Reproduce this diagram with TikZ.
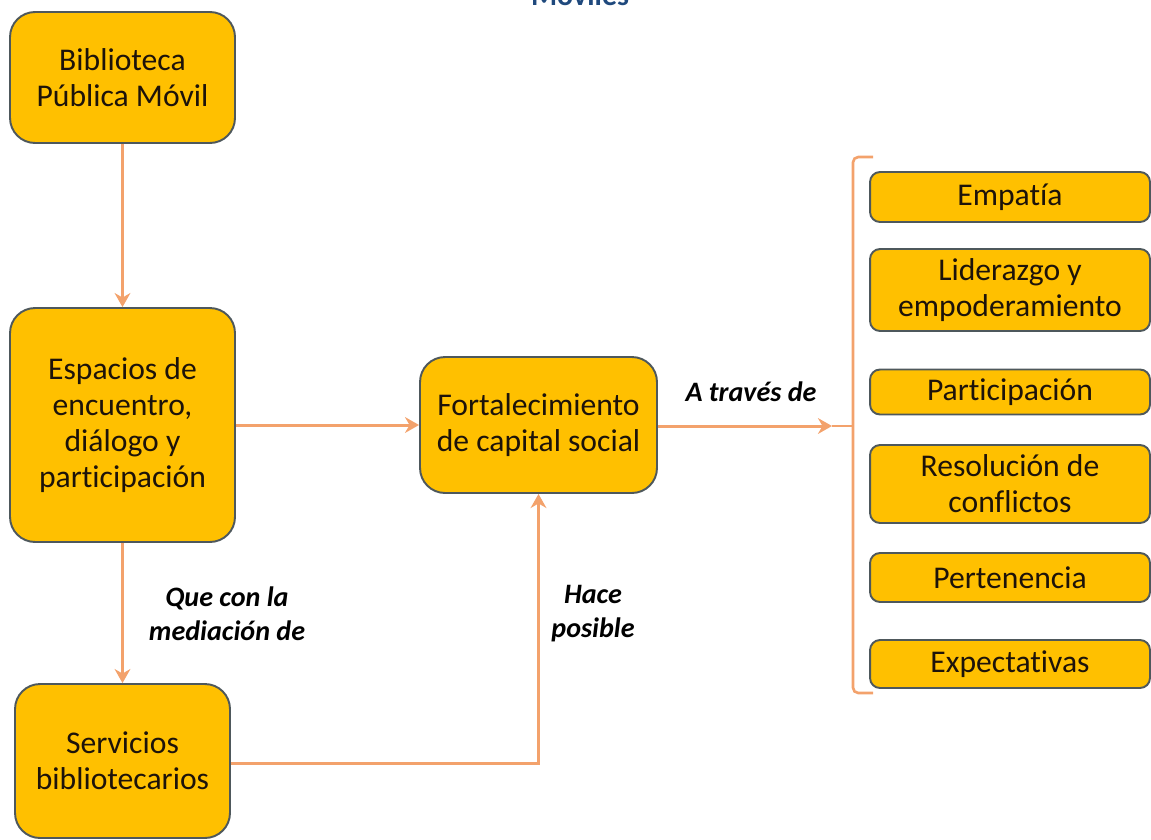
\documentclass[tikz,border=0pt]{standalone}
\usepackage{fontspec}
\setmainfont[Ligatures=NoCommon]{Carlito}
\usepackage{tikz}
\usetikzlibrary{arrows.meta,positioning,calc}

\definecolor{cajaoro}{RGB}{255,192,0}
\definecolor{bordegris}{RGB}{78,88,92}
\definecolor{flechanar}{RGB}{243,162,108}
\definecolor{tituloazul}{RGB}{31,73,125}

\tikzset{
  caja/.style={draw=bordegris, fill=cajaoro, line width=1.1pt, rounded corners=0.5cm,
    align=center, inner sep=0pt, text=black!85!brown,
    font=\fontsize{18}{20.5}\selectfont},
  cajita/.style={caja, rounded corners=0.2cm, minimum width=5.6cm},
  flecha/.style={draw=flechanar, line width=1.7pt, -{Stealth[length=8pt,width=9pt]}},
  etiqueta/.style={align=center, inner sep=0pt,
    font=\fontsize{16}{19.4}\selectfont\bfseries\itshape},
}

\begin{document}
\begin{tikzpicture}[x=0.02cm, y=-0.02cm]

\useasboundingbox (0,0) rectangle (1151,839);

% Title (cut at the top edge)
\node[anchor=base, inner sep=0pt, text=tituloazul,
  font=\fontsize{17}{20}\selectfont\bfseries] (titulo) at (580,5) {Móviles};

% Left column
\node[caja, minimum width=4.5cm, minimum height=2.62cm] (bib) at (122.5,77.5) {Biblioteca\\Pública Móvil};
\node[caja, minimum width=4.5cm, minimum height=4.68cm] (esp) at (122.5,425) {Espacios de\\encuentro,\\diálogo y\\participación};
\node[caja, minimum width=4.3cm, minimum height=3.08cm] (ser) at (122.5,761) {Servicios\\bibliotecarios};

% Center
\node[caja, minimum width=4.74cm, minimum height=2.72cm] (fort) at (538.5,425) {Fortalecimiento\\de capital social};

% Right column
\node[cajita, minimum height=1.0cm]  (emp) at (1010,197)   {Empatía};
\node[cajita, minimum height=1.64cm] (lid) at (1010,290)   {Liderazgo y\\empoderamiento};
\node[cajita, minimum height=0.9cm]  (par) at (1010,392)   {Participación};
\node[cajita, minimum height=1.56cm] (res) at (1010,484)   {Resolución de\\conflictos};
\node[cajita, minimum height=0.98cm] (per) at (1010,577.5) {Pertenencia};
\node[cajita, minimum height=0.96cm] (exp) at (1010,664)   {Expectativas};

% Bracket
\coordinate (punta) at (832,426);
\coordinate (llave) at (853,426);
\draw[flechanar, line width=1.5pt, rounded corners=3pt]
  (873,157) -- (853,157) -- (853,693) -- (873,693);
\draw[flechanar, line width=1pt] (punta) -- (llave);

% Arrows
\draw[flecha] (bib) -- (esp);
\draw[flecha] (esp) -- (fort);
\draw[flecha] (esp) -- (ser);
\draw[flecha, rounded corners=0pt] (ser.east |- 0,763) -| (fort.south);
\draw[flecha] (fort.east |- punta) -- (punta);

% Labels
\node[etiqueta] (atraves) at (751,392) {A través de};
\node[etiqueta] (mediacion) at (227,614) {Que con la\\mediación de};
\node[etiqueta] (posible) at (593,614) {Hace\\posible};

\end{tikzpicture}
\end{document}
